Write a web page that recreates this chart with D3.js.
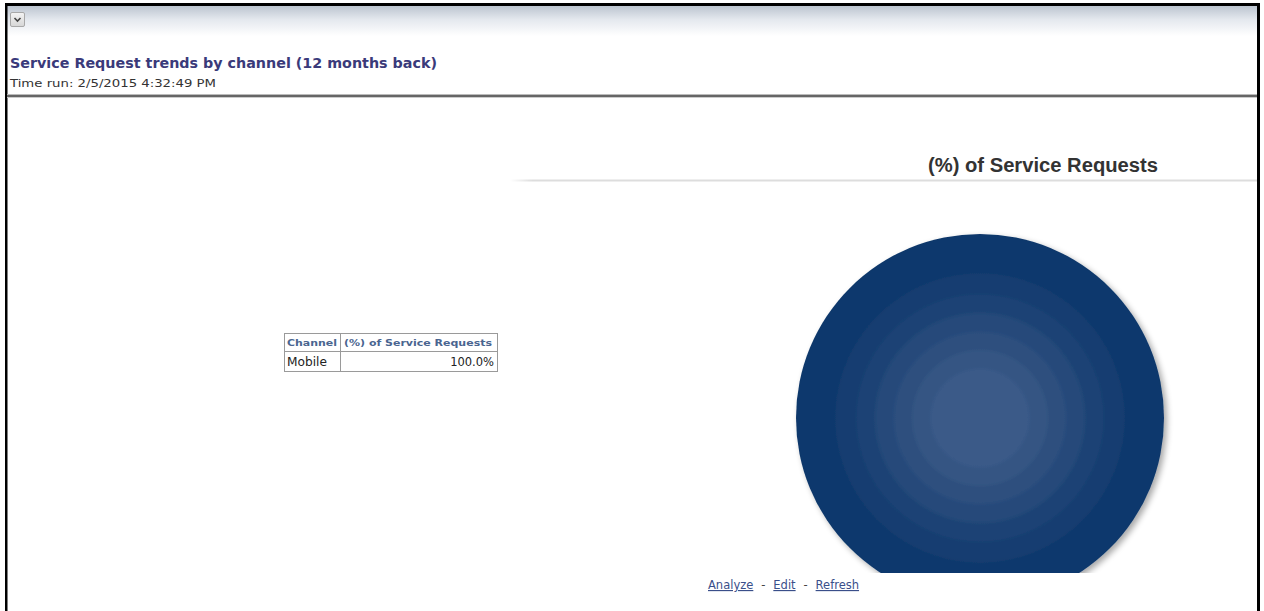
<!DOCTYPE html>
<html>
<head>
<meta charset="utf-8">
<script src="https://cdn.jsdelivr.net/npm/d3@7"></script>
<style>
  body { margin: 0; background: #fff; }
  svg { display: block; }
  .link { fill: #3a4f8a; text-decoration: underline; }
</style>
</head>
<body>
<svg id="page" width="1264" height="611"></svg>
<script>
// data
const reportTitle = 'Service Request trends by channel (12 months back)';
const timeRun = 'Time run: 2/5/2015 4:32:49 PM';
const chartTitle = '(%) of Service Requests';
const tableHeaders = ['Channel', '(%) of Service Requests'];
const channels = ['Mobile'];
const shares = [100.0];
const links = ['Analyze', 'Edit', 'Refresh'];

const svg = d3.select('#page');
const defs = svg.append('defs');

// header band gradient
const hg = defs.append('linearGradient').attr('id', 'hdr').attr('x1', 0).attr('x2', 0).attr('y1', 0).attr('y2', 1);
hg.append('stop').attr('offset', 0).attr('stop-color', '#bcc5d0');
hg.append('stop').attr('offset', 0.45).attr('stop-color', '#e4e8ee');
hg.append('stop').attr('offset', 1).attr('stop-color', '#ffffff');

svg.append('rect').attr('x', 7).attr('y', 6).attr('width', 1250).attr('height', 30).attr('fill', 'url(#hdr)');

// page frame
svg.append('rect').attr('x', 5).attr('y', 3).attr('width', 1255).attr('height', 3).attr('fill', '#000');
svg.append('rect').attr('x', 5).attr('y', 3).attr('width', 2.5).attr('height', 608).attr('fill', '#000');
svg.append('rect').attr('x', 1257).attr('y', 3).attr('width', 3).attr('height', 608).attr('fill', '#000');

// collapse toggle
const tg = defs.append('linearGradient').attr('id', 'tog').attr('x1', 0).attr('x2', 0).attr('y1', 0).attr('y2', 1);
tg.append('stop').attr('offset', 0).attr('stop-color', '#f4f4f4');
tg.append('stop').attr('offset', 1).attr('stop-color', '#d6d6d6');
svg.append('rect').attr('x', 10.5).attr('y', 12.5).attr('width', 14).attr('height', 14).attr('rx', 1.5)
  .attr('fill', 'url(#tog)').attr('stroke', '#a8a8a8');
svg.append('path').attr('d', 'M14.5,18 L17.5,21 L20.5,18').attr('fill', 'none').attr('stroke', '#444').attr('stroke-width', 1.6);

// report title
svg.append('text').attr('x', 10).attr('y', 68)
  .attr('font-family', 'DejaVu Sans, Verdana, sans-serif').attr('font-weight', 'bold').attr('font-size', 14)
  .attr('fill', '#3a3a7a').attr('textLength', 427).attr('lengthAdjust', 'spacingAndGlyphs')
  .text(reportTitle);
svg.append('text').attr('x', 10).attr('y', 87)
  .attr('font-family', 'DejaVu Sans, Verdana, sans-serif').attr('font-size', 10)
  .attr('fill', '#333').attr('textLength', 206).attr('lengthAdjust', 'spacingAndGlyphs')
  .text(timeRun);

// separator
svg.append('rect').attr('x', 7).attr('y', 94).attr('width', 1250).attr('height', 1).attr('fill', '#bbb');
svg.append('rect').attr('x', 7).attr('y', 95).attr('width', 1250).attr('height', 2).attr('fill', '#666');
svg.append('rect').attr('x', 7).attr('y', 97).attr('width', 1250).attr('height', 1).attr('fill', '#ccc');

// table
const tx = 284, ty = 333, colW = [56, 157], rowH = [18, 20];
const tbl = svg.append('g');
tbl.append('rect').attr('x', tx + 0.5).attr('y', ty + 0.5).attr('width', colW[0] + colW[1]).attr('height', rowH[0] + rowH[1] * channels.length)
  .attr('fill', '#fff').attr('stroke', '#9a9a9a');
tbl.append('line').attr('x1', tx + colW[0] + 0.5).attr('x2', tx + colW[0] + 0.5).attr('y1', ty).attr('y2', ty + rowH[0] + rowH[1] * channels.length)
  .attr('stroke', '#9a9a9a');
tbl.selectAll('line.row').data(channels).enter().append('line').attr('class', 'row')
  .attr('x1', tx).attr('x2', tx + colW[0] + colW[1])
  .attr('y1', (d, i) => ty + rowH[0] + rowH[1] * i + 0.5).attr('y2', (d, i) => ty + rowH[0] + rowH[1] * i + 0.5)
  .attr('stroke', '#9a9a9a');
tbl.selectAll('text.hd').data(tableHeaders).enter().append('text').attr('class', 'hd')
  .attr('x', (d, i) => i === 0 ? tx + 3 : tx + colW[0] + 4).attr('y', ty + 13)
  .attr('font-family', 'DejaVu Sans, Verdana, sans-serif').attr('font-weight', 'bold').attr('font-size', 8.5)
  .attr('fill', '#4a6590')
  .attr('textLength', (d, i) => i === 0 ? 50 : 148).attr('lengthAdjust', 'spacingAndGlyphs')
  .text(d => d);
channels.forEach((c, i) => {
  const y = ty + rowH[0] + rowH[1] * i + 15;
  tbl.append('text').attr('x', tx + 3).attr('y', y)
    .attr('font-family', 'DejaVu Sans, Verdana, sans-serif').attr('font-size', 11.5).attr('fill', '#222')
    .attr('textLength', 40).attr('lengthAdjust', 'spacingAndGlyphs').text(c);
  tbl.append('text').attr('x', tx + colW[0] + colW[1] - 3).attr('y', y).attr('text-anchor', 'end')
    .attr('font-family', 'DejaVu Sans, Verdana, sans-serif').attr('font-size', 11.5).attr('fill', '#222')
    .text(d3.format('.1f')(shares[i]) + '%');
});

// chart title and rule
svg.append('text').attr('x', 1043).attr('y', 172).attr('text-anchor', 'middle')
  .attr('font-family', 'Liberation Sans Narrow, Arial Narrow, Liberation Sans, sans-serif').attr('font-weight', 'bold')
  .attr('font-size', 20).attr('fill', '#333')
  .attr('textLength', 230).attr('lengthAdjust', 'spacingAndGlyphs')
  .text(chartTitle);
const rg = defs.append('linearGradient').attr('id', 'rule');
rg.append('stop').attr('offset', 0).attr('stop-color', '#fff');
rg.append('stop').attr('offset', 0.03).attr('stop-color', '#ddd');
rg.append('stop').attr('offset', 1).attr('stop-color', '#ddd');
svg.append('rect').attr('x', 510).attr('y', 179.5).attr('width', 747).attr('height', 2).attr('fill', 'url(#rule)');

// pie
const cx = 980, cy = 418, r = 184;
// gradient lives in the pie group's local space, centred at 0,0
const pg = defs.append('radialGradient').attr('id', 'pieFill')
  .attr('gradientUnits', 'userSpaceOnUse').attr('cx', 0).attr('cy', 0).attr('r', r);
// soft banded shading: light core, dark rim
const bandEdges = [0, 0.27, 0.37, 0.47, 0.57, 0.67, 0.78, 1];
const bandCols = ['#3a5a88', '#345583', '#2d4f7e', '#25497a', '#1d4375', '#163e71', '#10396d'];
bandCols.forEach((c, i) => {
  pg.append('stop').attr('offset', bandEdges[i] + (i ? 0.012 : 0)).attr('stop-color', c);
  pg.append('stop').attr('offset', bandEdges[i + 1] - 0.012).attr('stop-color', c);
});
pg.append('stop').attr('offset', 1).attr('stop-color', '#0c366a');

const shadow = defs.append('filter').attr('id', 'sh').attr('x', '-10%').attr('y', '-10%').attr('width', '120%').attr('height', '120%');
shadow.append('feGaussianBlur').attr('in', 'SourceAlpha').attr('stdDeviation', 3);
shadow.append('feOffset').attr('dx', 3).attr('dy', 3).attr('result', 'b');
shadow.append('feComponentTransfer').append('feFuncA').attr('type', 'linear').attr('slope', 0.35);
const fm = shadow.append('feMerge');
fm.append('feMergeNode');
fm.append('feMergeNode').attr('in', 'SourceGraphic');

defs.append('clipPath').attr('id', 'plotClip')
  .append('rect').attr('x', 500).attr('y', 182).attr('width', 757).attr('height', 391);

const pie = d3.pie().sort(null)(shares);
const arc = d3.arc().innerRadius(0).outerRadius(r);
svg.append('g').attr('clip-path', 'url(#plotClip)')
  .append('g').attr('transform', `translate(${cx},${cy})`).attr('filter', 'url(#sh)')
  .selectAll('path').data(pie).enter().append('path')
  .attr('d', arc).attr('fill', 'url(#pieFill)');

// links, laid out word by word
let lx = 708;
links.forEach((l, i) => {
  if (i > 0) {
    svg.append('text').attr('x', lx + 8).attr('y', 589)
      .attr('font-family', 'DejaVu Sans, Verdana, sans-serif').attr('font-size', 11.5).attr('fill', '#444').text('-');
    lx += 20;
  }
  const t = svg.append('text').attr('class', 'link').attr('x', lx).attr('y', 589)
    .attr('font-family', 'DejaVu Sans, Verdana, sans-serif').attr('font-size', 11.5).text(l);
  lx += t.node().getComputedTextLength();
});
</script>
</body>
</html>
